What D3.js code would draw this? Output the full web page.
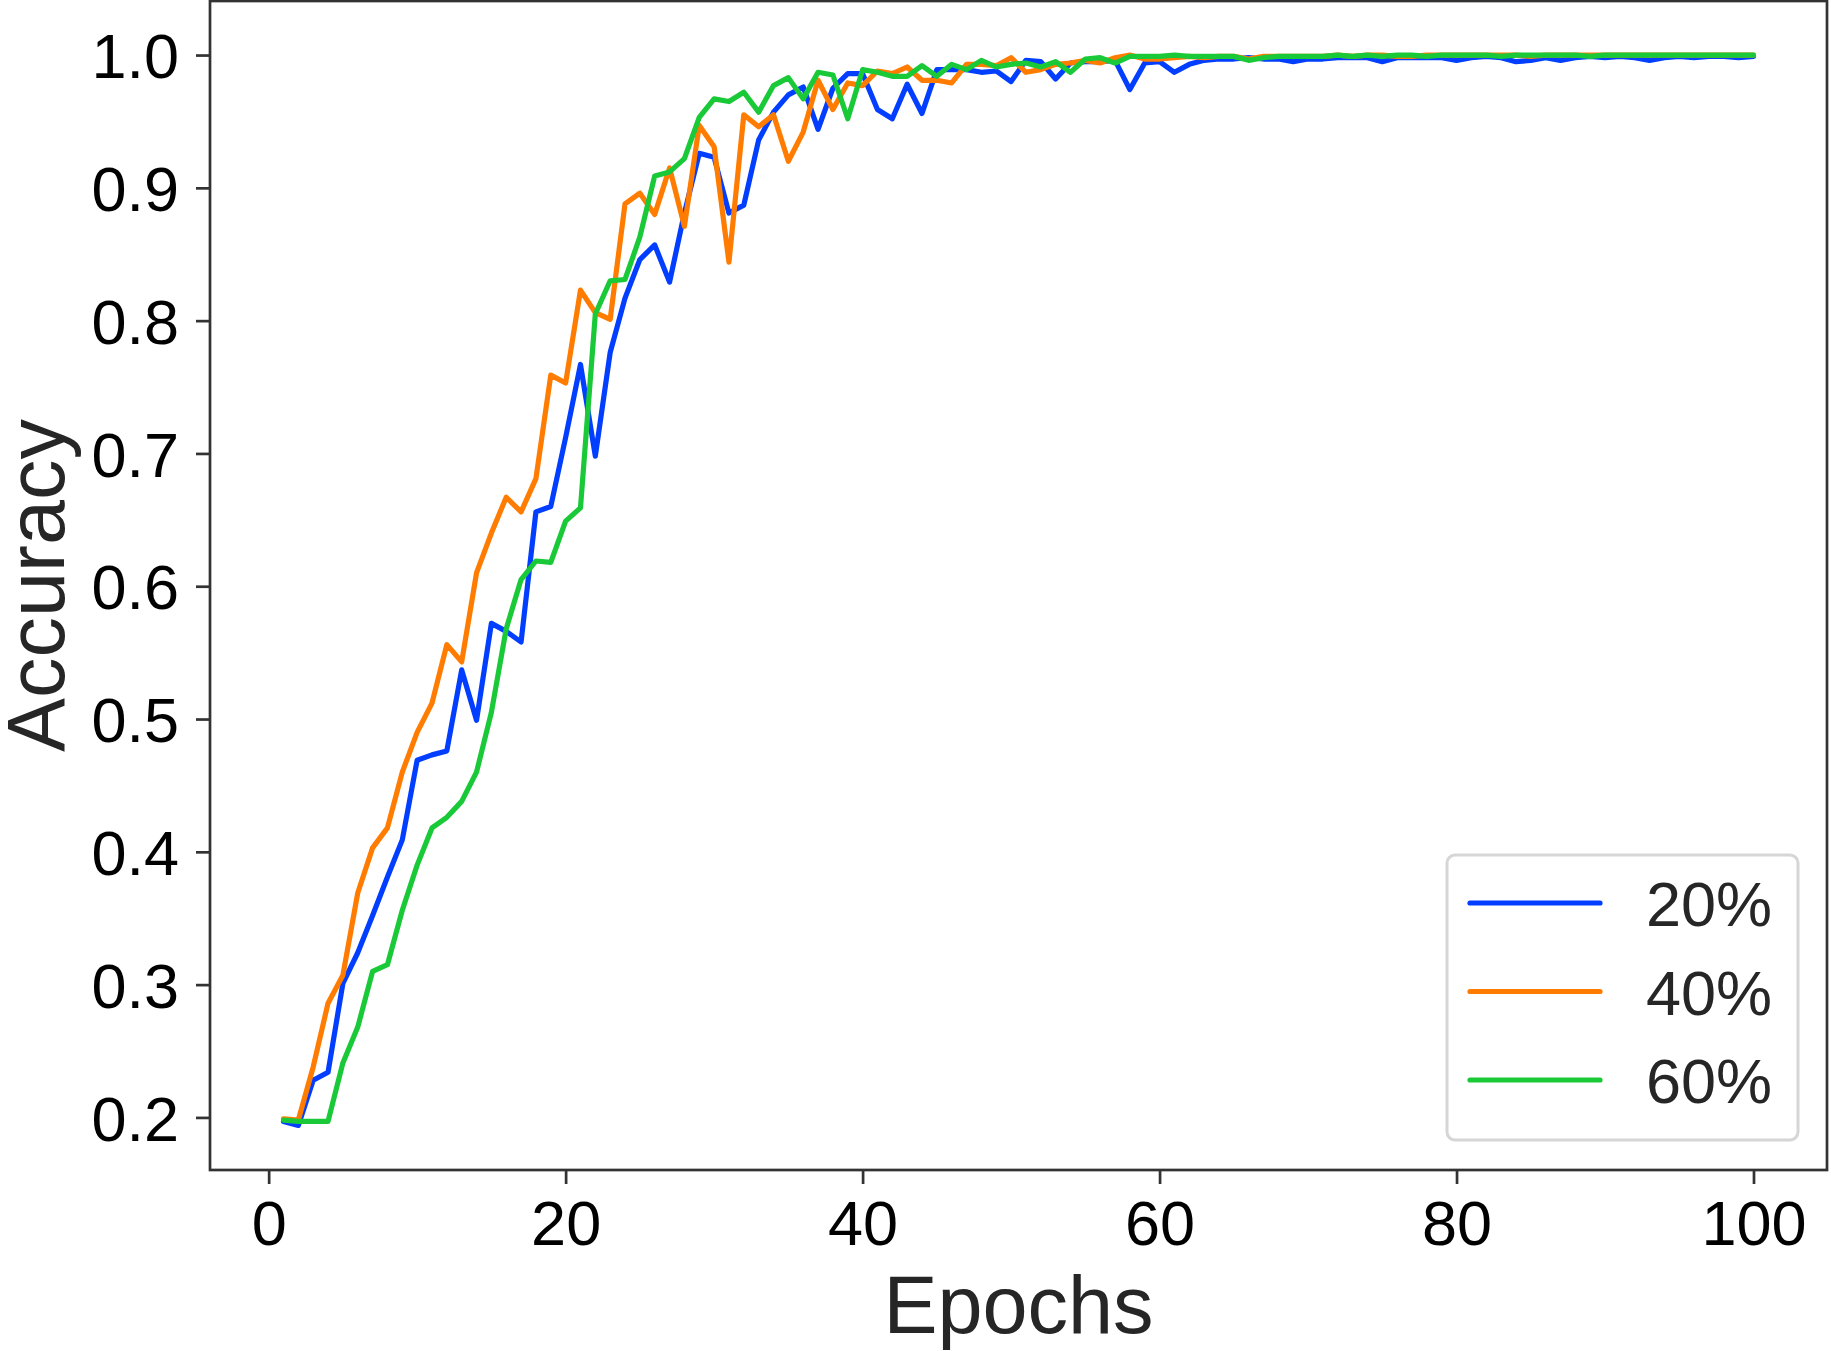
<!DOCTYPE html>
<html>
<head>
<meta charset="utf-8">
<script src="https://cdn.jsdelivr.net/npm/d3@7"></script>
<style>
	body{margin:0;background:#fff;}
	text{font-family:"Liberation Sans", Arial, sans-serif;}
</style>
</head>
<body>
<svg id="chart" width="1831" height="1351"></svg>
<script>
var epochs = d3.range(1, 101);
var seriesNames = ["20%", "40%", "60%"];
var seriesColors = ["#023eff", "#ff7c00", "#1ac938"];

var acc20 = [0.197,0.194,0.228,0.234,0.301,0.324,0.352,0.381,0.409,0.469,
	0.473,0.476,0.537,0.499,0.572,0.566,0.558,0.656,0.660,0.712,
	0.767,0.698,0.776,0.817,0.846,0.857,0.829,0.881,0.926,0.923,
	0.881,0.887,0.936,0.957,0.970,0.976,0.944,0.975,0.986,0.986,
	0.959,0.952,0.978,0.956,0.989,0.989,0.989,0.987,0.988,0.980,
	0.996,0.995,0.982,0.994,0.995,0.995,0.996,0.974,0.994,0.995,
	0.987,0.993,0.996,0.997,0.997,0.998,0.997,0.997,0.995,0.997,
	0.997,0.998,0.998,0.998,0.995,0.998,0.998,0.998,0.998,0.996,
	0.998,0.999,0.998,0.995,0.996,0.998,0.996,0.998,0.999,0.998,
	0.999,0.998,0.996,0.998,0.999,0.998,0.999,0.999,0.998,0.999];

var acc40 = [0.199,0.198,0.238,0.286,0.307,0.369,0.403,0.418,0.460,0.490,
	0.512,0.556,0.543,0.610,0.640,0.667,0.656,0.681,0.759,0.753,
	0.823,0.806,0.801,0.888,0.896,0.880,0.915,0.871,0.947,0.931,
	0.844,0.955,0.946,0.955,0.920,0.942,0.981,0.959,0.979,0.977,
	0.988,0.986,0.991,0.981,0.981,0.979,0.993,0.993,0.992,0.998,
	0.987,0.989,0.993,0.994,0.996,0.994,0.998,1.000,0.997,0.997,
	0.998,0.999,0.998,0.999,0.999,0.997,0.999,0.999,0.999,0.999,
	0.999,1.000,0.999,1.000,1.000,0.999,0.999,1.000,1.000,1.000,
	1.000,1.000,1.000,1.000,0.999,1.000,1.000,1.000,1.000,1.000,
	1.000,1.000,1.000,1.000,1.000,1.000,1.000,1.000,1.000,1.000];

var acc60 = [0.198,0.197,0.197,0.197,0.241,0.268,0.310,0.315,0.356,0.390,
	0.418,0.426,0.438,0.460,0.505,0.568,0.605,0.619,0.618,0.649,
	0.659,0.805,0.830,0.831,0.863,0.909,0.912,0.922,0.953,0.967,
	0.965,0.972,0.957,0.977,0.983,0.967,0.987,0.985,0.952,0.989,
	0.987,0.984,0.984,0.992,0.984,0.993,0.989,0.996,0.991,0.993,
	0.994,0.991,0.995,0.987,0.997,0.998,0.994,0.999,0.999,0.999,
	1.000,0.999,0.999,0.999,0.999,0.996,0.998,0.999,0.999,0.999,
	0.999,1.000,0.999,1.000,0.999,1.000,1.000,0.999,1.000,1.000,
	1.000,1.000,0.999,1.000,1.000,1.000,1.000,1.000,0.999,1.000,
	1.000,1.000,1.000,1.000,1.000,1.000,1.000,1.000,1.000,1.000];

var xTicks = [0, 20, 40, 60, 80, 100];
var yTicks = [0.2, 0.3, 0.4, 0.5, 0.6, 0.7, 0.8, 0.9, 1.0];
var xLabel = "Epochs";
var yLabel = "Accuracy";

var svg = d3.select("#chart");
var margin = {top: 1, right: 4, bottom: 181, left: 210};
var width = 1831 - margin.left - margin.right;
var height = 1351 - margin.top - margin.bottom;

var svgG = svg.append("g")
			.attr("transform", "translate(" + margin.left + "," + margin.top + ")");

// matplotlib style limits (data range + margins)
var xScale = d3.scaleLinear()
				.domain([-3.95, 104.95])
				.range([0, width]);

var yScale = d3.scaleLinear()
				.domain([0.1604, 1.0407])
				.range([height, 0]);

var series = [acc20, acc40, acc60].map(function(vals, i){
	return {
		name: seriesNames[i],
		color: seriesColors[i],
		values: vals.map(function(v, j){ return {x: epochs[j], y: v}; })
	};
});

var line = d3.line()
			.x(function(d){return xScale(d.x);})
			.y(function(d){return yScale(d.y);});

svgG.selectAll("path.line")
	.data(series)
	.enter()
	.append("path")
	.attr("class", "line")
	.attr("d", function(d){return line(d.values);})
	.attr("fill", "none")
	.attr("stroke", function(d){return d.color;})
	.attr("stroke-width", 5.2)
	.attr("stroke-linejoin", "round")
	.attr("stroke-linecap", "round");

// axes
var xAxis = svgG.append("g")
			.attr("transform", "translate(0," + height + ")")
			.call(d3.axisBottom(xScale).tickValues(xTicks).tickSize(14).tickPadding(16).tickFormat(d3.format("d")));

var yAxis = svgG.append("g")
			.call(d3.axisLeft(yScale).tickValues(yTicks).tickSize(14).tickPadding(17).tickFormat(d3.format(".1f")));

[xAxis, yAxis].forEach(function(ax){
	ax.select(".domain").remove();
	ax.selectAll(".tick line").attr("stroke", "#333").attr("stroke-width", 2.7);
	ax.selectAll(".tick text")
		.attr("fill", "#000")
		.style("font-size", "63px");
});
yAxis.selectAll(".tick text").attr("dy", "0.36em");
xAxis.selectAll(".tick text").attr("dy", "0.71em");

// frame
svgG.append("rect")
	.attr("x", 0)
	.attr("y", 0)
	.attr("width", width)
	.attr("height", height)
	.attr("fill", "none")
	.attr("stroke", "#333")
	.attr("stroke-width", 2.7);

// axis labels
svg.append("text")
	.attr("x", margin.left + width / 2)
	.attr("y", 1333)
	.attr("text-anchor", "middle")
	.attr("fill", "#262626")
	.style("font-size", "81px")
	.text(xLabel);

svg.append("text")
	.attr("transform", "translate(64," + (margin.top + height / 2) + ") rotate(-90)")
	.attr("text-anchor", "middle")
	.attr("fill", "#262626")
	.style("font-size", "81px")
	.text(yLabel);

// legend
var legend = svg.append("g").attr("transform", "translate(1447,855)");
legend.append("rect")
	.attr("width", 351)
	.attr("height", 285)
	.attr("rx", 8)
	.attr("fill", "#fff")
	.attr("stroke", "#d6d6d6")
	.attr("stroke-width", 3);

var items = legend.selectAll("g.item")
			.data(series)
			.enter()
			.append("g")
			.attr("class", "item")
			.attr("transform", function(d, i){return "translate(0," + (48 + i * 88.5) + ")";});

items.append("line")
	.attr("x1", 23).attr("x2", 153)
	.attr("y1", 0).attr("y2", 0)
	.attr("stroke", function(d){return d.color;})
	.attr("stroke-width", 5.2)
	.attr("stroke-linecap", "round");

items.append("text")
	.attr("x", 199)
	.attr("y", 23)
	.attr("fill", "#262626")
	.style("font-size", "63px")
	.text(function(d){return d.name;});
</script>
</body>
</html>
